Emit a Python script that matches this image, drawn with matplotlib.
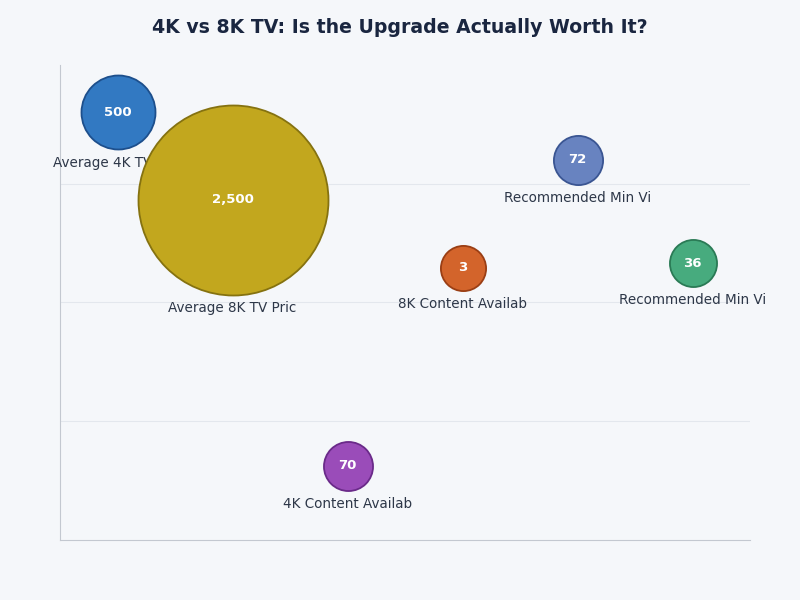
import matplotlib
matplotlib.use("Agg")
import matplotlib.pyplot as plt

# data
labels = ["Average 4K TV Price", "Average 8K TV Price", "4K Content Available",
          "8K Content Available", "Recommended Min Viewing Distance 4K",
          "Recommended Min Viewing Distance 8K"]
values = [500, 2500, 70, 3, 72, 36]
value_text = ["500", "2,500", "70", "3", "72", "36"]
y_pos = [90.1, 71.6, 15.6, 57.3, 80.0, 58.3]

colors = ["#3279c2", "#c2a71e", "#9a4cb9", "#d3642b", "#6883c0", "#47ab7e"]
edges = ["#1d4f8c", "#857210", "#6a2a89", "#9a3e14", "#3a5592", "#2a7a55"]

bg = "#f5f7fa"
fig = plt.figure(figsize=(8, 6), dpi=100, facecolor=bg)
ax = fig.add_axes([0.075, 0.1, 0.8625, 0.7917])
ax.set_facecolor(bg)

px_per_pt = fig.dpi / 72.0
for i in range(len(values)):
    r = 22.5 + 0.029 * values[i]  # radius in pixels
    s = (2 * r / px_per_pt) ** 2
    z = 10 + 2 * i
    ax.scatter(i, y_pos[i], s=s, color=colors[i], edgecolors=edges[i],
               linewidths=1.3, alpha=1.0, zorder=z)
    ax.text(i, y_pos[i], value_text[i], ha="center", va="center", color="white",
            fontsize=9.5, fontweight="bold", zorder=z + 1)
    ax.annotate(labels[i][:18], (i, y_pos[i]), xytext=(0, -(r + 13.5)),
                textcoords="offset pixels", ha="center", va="center",
                fontsize=9.75, color="#2d3748", zorder=z + 1)

ax.set_xlim(-0.5, 5.5)
ax.set_ylim(0, 100)
ax.set_yticks([25, 50, 75])
ax.set_xticks([])
ax.tick_params(axis="y", length=0, labelleft=False)
ax.grid(axis="y", color="#e3e7ed", linewidth=0.8, zorder=0)
ax.set_axisbelow(True)
for side in ["top", "right"]:
    ax.spines[side].set_visible(False)
for side in ["left", "bottom"]:
    ax.spines[side].set_color("#c3c8d0")

fig.text(0.5, 0.954, "4K vs 8K TV: Is the Upgrade Actually Worth It?",
         ha="center", va="center", fontsize=13.6, fontweight="bold", color="#1a2640")

fig.savefig("out.png", dpi=100, facecolor=bg)
